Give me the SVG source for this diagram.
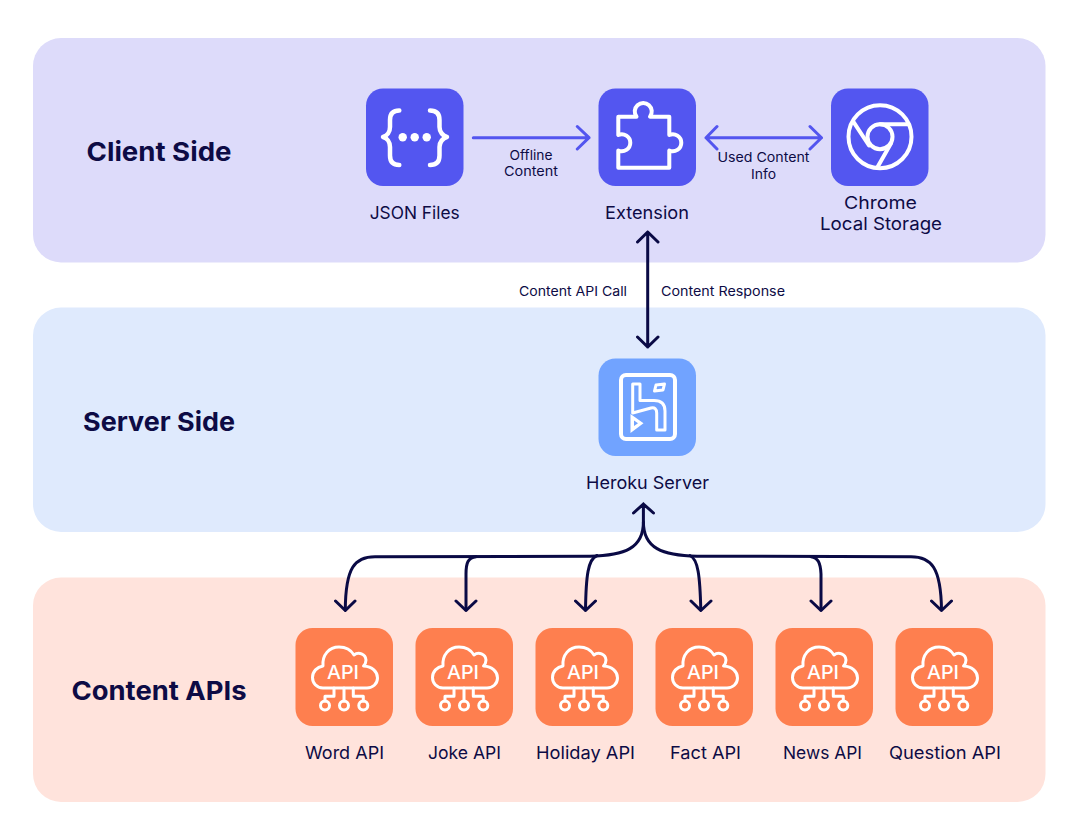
<svg xmlns="http://www.w3.org/2000/svg" xmlns:xlink="http://www.w3.org/1999/xlink" width="1080" height="840" viewBox="0 0 1080 840">
<style>
text{font-family:"Inter","Liberation Sans",sans-serif;fill:#0D0B45;text-anchor:middle}
.h{font-size:26px;font-weight:700}
.l{font-size:17.500px;font-weight:400}
.s{font-size:13px;font-weight:400}
.k{fill:none;stroke:#fff;stroke-width:4;stroke-linecap:round;stroke-linejoin:round}
.t{fill:none;stroke:#fff;stroke-width:3;stroke-linecap:round;stroke-linejoin:round}
.a{font-size:19px;font-weight:500;fill:#fff}
.n{fill:none;stroke:#0A0A45;stroke-width:3;stroke-linecap:round;stroke-linejoin:round}
.p{fill:none;stroke:#5355EF;stroke-width:3;stroke-linecap:round;stroke-linejoin:round}
</style>
<defs>
<g id="apiIcon">
<rect x="295.500" y="628" width="97.500" height="98" rx="17" fill="#FE7F4F"/>
<path class="t" d="M323 688C316.500 688 312.500 683 312.500 677.500C312.500 671.500 317 667 323 666C322 655 329 647 339 647C346 647 351 650 354 655C358.500 651.500 365.500 654 366 660C366 662.500 365 664.500 363.500 666C372.500 666.500 377.500 672 377.500 678C377.500 684 372.500 688 367 688Z"/>
<path class="t" d="M344 688V701M334 688V696.300H325V701M353.300 688V696.300H363.300V701"/>
<circle class="t" cx="325" cy="705.500" r="4.500"/>
<circle class="t" cx="344" cy="705.500" r="4.500"/>
<circle class="t" cx="363.300" cy="705.500" r="4.500"/>
</g>
</defs>
<g id="panels">
<rect x="33" y="38" width="1012.500" height="224.500" rx="28" fill="#DDDBFA"/>
<rect x="33" y="307.500" width="1012.500" height="224.500" rx="28" fill="#DFEAFD"/>
<rect x="33" y="577.500" width="1012.500" height="224.500" rx="28" fill="#FFE3DC"/>
<text class="h" x="159" y="160.500" textLength="145" lengthAdjust="spacingAndGlyphs">Client Side</text>
<text class="h" x="159" y="430.500" textLength="152" lengthAdjust="spacingAndGlyphs">Server Side</text>
<text class="h" x="159" y="699.500" textLength="175" lengthAdjust="spacingAndGlyphs">Content APIs</text>
</g>
<g id="connectors">
<path class="p" d="M473.300 137.700H589M577.300 126.500L589 137.700L577.300 149"/>
<path class="p" d="M706 137.700H821.500M717 126.500L706 137.700L717 149M810 126.500L821.500 137.700L810 149"/>
<path class="n" d="M647.700 232V347M637.500 242L647.700 232L658 242M637.500 337L647.700 347L658 337"/>
<path class="n" d="M643.400 504V522C643.400 548 625 555.700 590 556.200L375 556.700C355 556.700 345.500 567 345.300 610M633.500 513L643.400 504L653.500 513"/>
<path class="n" d="M643.400 522C643.400 548 662 555.700 697 556.200L911 556.700C931 556.700 941 567 941.500 610"/>
<path class="n" d="M476 556.700C468 557.500 466 563 466 574V610"/>
<path class="n" d="M597 555.500C588 559 586 576 585.500 610"/>
<path class="n" d="M690 555.500C698 559 700 576 700.800 610"/>
<path class="n" d="M811 556.700C818 557.500 820.500 563 821 574V610"/>
<path class="n" d="M335.500 601L345.300 610.500L355 601M456 601L466 610.500L476 601M575.500 601L585.500 610.500L595.500 601M691 601L700.800 610.500L711 601M811 601L821 610.500L831 601M931.500 601L941.500 610.500L951.500 601"/>
</g>
<g id="json-files">
<rect x="366" y="88.500" width="97.500" height="97.500" rx="17" fill="#5356F0"/>
<path class="k" style="stroke-width:4.500" d="M399.300 110.500C393 110.500 390 113.500 390 120V127C390 132 387 136 383 137C387 138 390 142 390 147V155.500C390 162 393 165 399.300 165M430 110.500C436.500 110.500 439.500 113.500 439.500 120V127C439.500 132 443 136 447 137C443 138 439.500 142 439.500 147V155.500C439.500 162 436.500 165 430 165"/>
<circle cx="402.700" cy="137.300" r="4.200" fill="#fff"/><circle cx="414.700" cy="137.300" r="4.200" fill="#fff"/><circle cx="426.700" cy="137.300" r="4.200" fill="#fff"/>
<text class="l" x="414.700" y="219" textLength="90" lengthAdjust="spacingAndGlyphs">JSON Files</text>
</g>
<g id="extension">
<rect x="598.500" y="88.500" width="97.500" height="97.500" rx="17" fill="#5356F0"/>
<path class="k" d="M618.300 116.700H636.500A8.500 8.500 0 1 1 650 116.700H669.300V135A8.500 8.500 0 1 1 669.300 150.500V167.700H618.300V150.500A8.500 8.500 0 1 0 618.300 135Z"/>
<text class="l" x="647" y="219" textLength="84" lengthAdjust="spacingAndGlyphs">Extension</text>
</g>
<g id="chrome-local-storage">
<rect x="831" y="88.500" width="97.500" height="97.500" rx="17" fill="#5356F0"/>
<circle class="k" cx="880" cy="136.700" r="31.500"/>
<circle class="k" cx="880" cy="136.700" r="12.500"/>
<path class="k" d="M853.300 121.700L869 145.500M880 124.200H908.500M891.200 143L877 168"/>
<text class="l" x="880.500" y="209" textLength="73" lengthAdjust="spacingAndGlyphs">Chrome</text>
<text class="l" x="881" y="230" textLength="122" lengthAdjust="spacingAndGlyphs">Local Storage</text>
</g>
<g id="heroku-server">
<rect x="598.500" y="358.500" width="97.500" height="97.500" rx="17" fill="#71A3FF"/>
<rect class="k" x="621" y="375" width="54" height="64" rx="5"/>
<path class="t" d="M632.700 384H640V400.500H654C661 400.500 665 404 665 411V430H656.700V413C656.700 409 654.500 407 651 408L632.700 413Z"/>
<path class="t" d="M656 385L664.500 384L663 390L654.500 391Z"/>
<path fill="#fff" fill-rule="evenodd" d="M630.500 414L643.500 423.300L630.500 433ZM634 420.500V426L638 423.300Z"/>
<text class="l" x="647.500" y="489" textLength="123" lengthAdjust="spacingAndGlyphs">Heroku Server</text>
</g>
<g id="label-offline"><text class="s" x="531" y="159.500" textLength="43" lengthAdjust="spacingAndGlyphs">Offline</text><text class="s" x="531" y="176" textLength="54" lengthAdjust="spacingAndGlyphs">Content</text></g>
<g id="label-used"><text class="s" x="763.500" y="162" textLength="92" lengthAdjust="spacingAndGlyphs">Used Content</text><text class="s" x="763.500" y="178.500" textLength="25" lengthAdjust="spacingAndGlyphs">Info</text></g>
<g id="label-call"><text class="s" x="573" y="295.500" textLength="108" lengthAdjust="spacingAndGlyphs">Content API Call</text></g>
<g id="label-response"><text class="s" x="723" y="295.500" textLength="124" lengthAdjust="spacingAndGlyphs">Content Response</text></g>
<g id="word-api"><use href="#apiIcon"/><text class="a" x="343" y="679" textLength="32" lengthAdjust="spacingAndGlyphs">API</text><text class="l" x="344.500" y="759" textLength="79" lengthAdjust="spacingAndGlyphs">Word API</text></g>
<g id="joke-api"><use href="#apiIcon" x="120"/><text class="a" x="463" y="679" textLength="32" lengthAdjust="spacingAndGlyphs">API</text><text class="l" x="464.500" y="759" textLength="73" lengthAdjust="spacingAndGlyphs">Joke API</text></g>
<g id="holiday-api"><use href="#apiIcon" x="240"/><text class="a" x="583" y="679" textLength="32" lengthAdjust="spacingAndGlyphs">API</text><text class="l" x="585.500" y="759" textLength="99" lengthAdjust="spacingAndGlyphs">Holiday API</text></g>
<g id="fact-api"><use href="#apiIcon" x="360"/><text class="a" x="703" y="679" textLength="32" lengthAdjust="spacingAndGlyphs">API</text><text class="l" x="705.500" y="759" textLength="71" lengthAdjust="spacingAndGlyphs">Fact API</text></g>
<g id="news-api"><use href="#apiIcon" x="480"/><text class="a" x="823" y="679" textLength="32" lengthAdjust="spacingAndGlyphs">API</text><text class="l" x="822.500" y="759" textLength="79" lengthAdjust="spacingAndGlyphs">News API</text></g>
<g id="question-api"><use href="#apiIcon" x="600"/><text class="a" x="943" y="679" textLength="32" lengthAdjust="spacingAndGlyphs">API</text><text class="l" x="945" y="759" textLength="112" lengthAdjust="spacingAndGlyphs">Question API</text></g>
</svg>
